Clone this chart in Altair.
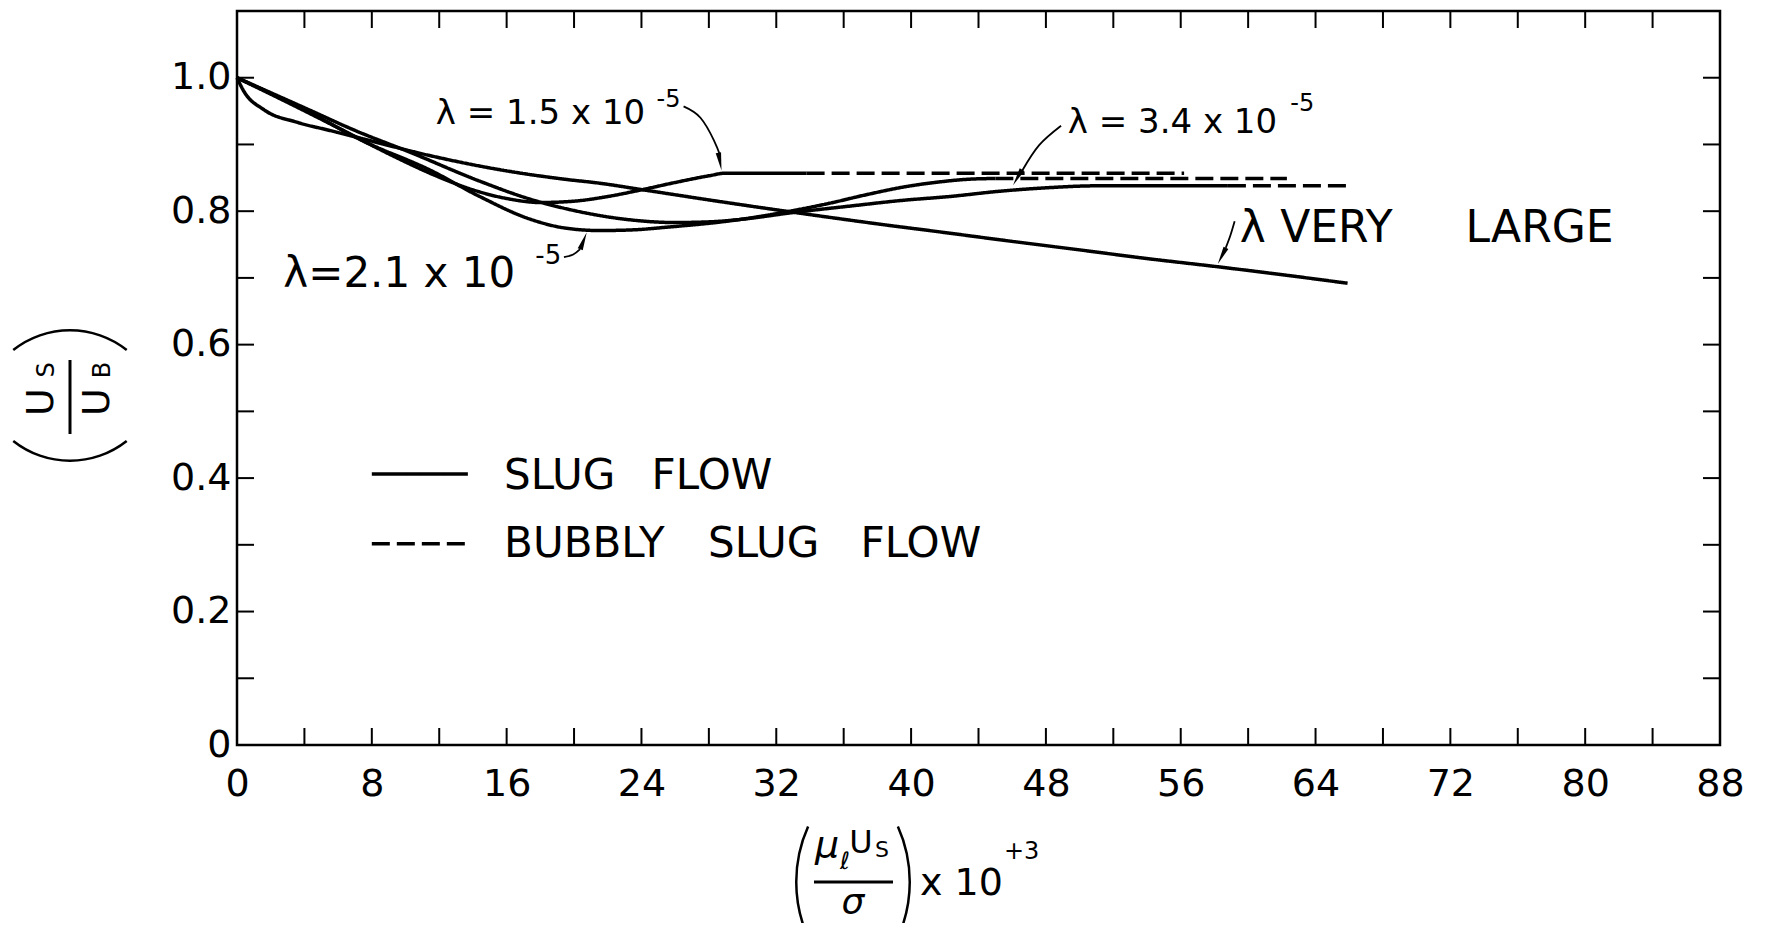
import altair as alt
import pandas as pd

FONT = "DejaVu Sans"

# ---------------- data ----------------
# x = (mu_l * Us / sigma) x 10^3 ,  y = Us / UB
VL_X = [0, 0.4, 1.6, 3.6, 5.5, 8, 11.5, 15.4, 19.4, 21.5, 24.1, 28.5, 33.4, 38, 42.3, 45.3, 50, 54, 58.1, 63.5, 65.9]
VL_Y = [1.0, 0.98, 0.952, 0.933, 0.921, 0.905, 0.883, 0.863, 0.848, 0.842, 0.832, 0.815, 0.797, 0.781, 0.767, 0.757, 0.742, 0.729, 0.717, 0.700, 0.692]

L15_X = [0, 3, 6, 9, 12, 14, 16, 18, 20, 22, 24, 26, 28, 29, 33.8]
L15_Y = [1.0, 0.963, 0.925, 0.886, 0.851, 0.832, 0.819, 0.813, 0.815, 0.822, 0.832, 0.843, 0.853, 0.857, 0.857]
L15_DASH_X = [33.8, 56.2]
L15_DASH_Y = [0.857, 0.857]

L21_X = [0, 4, 7.5, 11.5, 14.4, 17.4, 19.4, 21.5, 23.5, 25.5, 29.4, 32.6, 35, 37.4, 39.5, 41.4, 43.5, 45.0]
L21_Y = [1.0, 0.952, 0.905, 0.861, 0.822, 0.788, 0.775, 0.771, 0.772, 0.776, 0.786, 0.799, 0.811, 0.825, 0.836, 0.843, 0.848, 0.849]
L21_DASH_X = [45.0, 62.3]
L21_DASH_Y = [0.849, 0.849]

L34_X = [0, 4, 7, 10.3, 14.4, 17.4, 20, 23, 26, 28, 30, 33, 36.5, 39.4, 42.3, 45.3, 48, 51, 58.8]
L34_Y = [1.0, 0.955, 0.921, 0.888, 0.845, 0.818, 0.801, 0.788, 0.783, 0.784, 0.788, 0.798, 0.808, 0.816, 0.822, 0.830, 0.835, 0.838, 0.838]
L34_DASH_X = [58.8, 65.9]
L34_DASH_Y = [0.838, 0.838]

X_LABELS = [0, 8, 16, 24, 32, 40, 48, 56, 64, 72, 80, 88]
Y_LABELS = [0, 0.2, 0.4, 0.6, 0.8, 1.0]
X_MINOR = [4, 8, 12, 16, 20, 24, 28, 32, 36, 40, 44, 48, 52, 56, 60, 64, 68, 72, 76, 80, 84]
Y_MINOR = [0.1, 0.2, 0.3, 0.4, 0.5, 0.6, 0.7, 0.8, 0.9, 1.0]

# annotations (data coordinates)
ANN_T = ["λ = 1.5 x 10", "-5", "λ=2.1 x 10", "-5", "λ = 3.4 x 10", "-5", "λ", "VERY", "LARGE"]
ANN_X = [11.8, 24.9, 2.75, 17.7, 49.3, 62.5, 59.5, 61.9, 72.9]
ANN_Y = [0.946, 0.967, 0.706, 0.733, 0.932, 0.960, 0.773, 0.773, 0.773]
ANN_FS = [34, 24, 42, 26, 34, 24, 44, 44, 44]

LEG_T = ["SLUG", "FLOW", "BUBBLY", "SLUG", "FLOW"]
LEG_X = [15.85, 24.6, 15.85, 27.95, 37.0]
LEG_Y = [0.403, 0.403, 0.3015, 0.3015, 0.3015]
LEG_LINE_X = [8.0, 13.7]
LEG_LINE_Y = [0.406, 0.3015]

ARROWS = {
    "a15": ([26.5, 27.5, 28.3, 28.65], [0.957, 0.940, 0.906, 0.885]),
    "a21": ([19.4, 19.95, 20.36], [0.731, 0.735, 0.743]),
    "a34": ([48.9, 47.6, 46.6], [0.928, 0.899, 0.861]),
    "avl": ([59.2, 58.95, 58.67], [0.785, 0.764, 0.745]),
}
HEAD_X = [28.75, 20.75, 46.05, 58.2]
HEAD_Y = [0.861, 0.768, 0.839, 0.721]
HEAD_ANG = [350, 201, 30, 27]

# ---------------- layout ----------------
OX, OY = 237, 11          # plot origin on the page
W, H = 1483, 734
TICK = 17

xs = alt.Scale(domain=[0, 88], nice=False, zero=False)
ys = alt.Scale(domain=[0, 1.1], nice=False, zero=False)
xaxis = alt.Axis(values=X_LABELS, title=None, grid=False, ticks=False, domain=False,
                 labelFontSize=38, labelFont=FONT, labelColor="black", labelPadding=20,
                 labelFlush=False, labelOverlap=False)
yaxis = alt.Axis(values=Y_LABELS, title=None, grid=False, ticks=False, domain=False,
                 labelFontSize=38, labelFont=FONT, labelColor="black", labelPadding=6,
                 labelFlush=False, labelOverlap=False,
                 labelExpr="datum.value == 0 ? '0' : format(datum.value, '.1f')")


def X(f="x"):
    return alt.X(f"{f}:Q", scale=xs, axis=xaxis)


def Y(f="y"):
    return alt.Y(f"{f}:Q", scale=ys, axis=yaxis)


# curves table
segs = [
    ("vl", "solid", VL_X, VL_Y),
    ("15", "solid", L15_X, L15_Y), ("15d", "dashed", L15_DASH_X, L15_DASH_Y),
    ("21", "solid", L21_X, L21_Y), ("21d", "dashed", L21_DASH_X, L21_DASH_Y),
    ("34", "solid", L34_X, L34_Y), ("34d", "dashed", L34_DASH_X, L34_DASH_Y),
]
rows = []
for name, sty, xv, yv in segs:
    for i, (a, b) in enumerate(zip(xv, yv)):
        rows.append({"seg": name, "style": sty, "x": a, "y": b, "i": i})
curves = pd.DataFrame(rows)

lines = alt.Chart(curves).mark_line(color="black", strokeWidth=3.5, interpolate="monotone").encode(
    x=X(), y=Y(), detail="seg:N", order="i:Q",
    strokeDash=alt.StrokeDash("style:N", scale=alt.Scale(domain=["solid", "dashed"], range=[[1, 0], [18, 7]]), legend=None),
)

# inward ticks on all four sides
xt = pd.DataFrame({"x": X_MINOR})
yt = pd.DataFrame({"y": Y_MINOR})
tick_b = alt.Chart(xt).mark_rule(color="black", strokeWidth=2).encode(x=X(), y=alt.value(H), y2=alt.value(H - TICK))
tick_t = alt.Chart(xt).mark_rule(color="black", strokeWidth=2).encode(x=X(), y=alt.value(0), y2=alt.value(TICK))
tick_l = alt.Chart(yt).mark_rule(color="black", strokeWidth=2).encode(y=Y(), x=alt.value(0), x2=alt.value(TICK))
tick_r = alt.Chart(yt).mark_rule(color="black", strokeWidth=2).encode(y=Y(), x=alt.value(W), x2=alt.value(W - TICK))

ann = pd.DataFrame({"t": ANN_T, "x": ANN_X, "y": ANN_Y, "fs": ANN_FS})
ann_text = alt.Chart(ann).mark_text(align="left", baseline="middle", font=FONT, color="black").encode(
    x=X(), y=Y(), text="t:N", size=alt.Size("fs:Q", scale=None))

leg = pd.DataFrame({"t": LEG_T, "x": LEG_X, "y": LEG_Y})
leg_text = alt.Chart(leg).mark_text(align="left", baseline="middle", font=FONT, fontSize=42, color="black").encode(
    x=X(), y=Y(), text="t:N")
legl = pd.DataFrame({"x": [LEG_LINE_X[0]] * 2, "x2": [LEG_LINE_X[1]] * 2, "y": LEG_LINE_Y,
                     "style": ["solid", "dashed"]})
leg_lines = alt.Chart(legl).mark_rule(color="black", strokeWidth=3.5).encode(
    x=X(), x2="x2:Q", y=Y(),
    strokeDash=alt.StrokeDash("style:N", scale=alt.Scale(domain=["solid", "dashed"], range=[[1, 0], [26, 9]]), legend=None))

arows = []
for k, (xv, yv) in ARROWS.items():
    for i, (a, b) in enumerate(zip(xv, yv)):
        arows.append({"a": k, "x": a, "y": b, "i": i})
arr = pd.DataFrame(arows)
arrow_lines = alt.Chart(arr).mark_line(color="black", strokeWidth=1.8, interpolate="natural").encode(
    x=X(), y=Y(), detail="a:N", order="i:Q")
heads = pd.DataFrame({"x": HEAD_X, "y": HEAD_Y, "ang": HEAD_ANG})
arrow_heads = alt.Chart(heads).mark_point(shape="M0,0 L-0.3,-2 L0.3,-2 Z", filled=True, color="black",
                                          size=324, opacity=1).encode(
    x=X(), y=Y(), angle=alt.Angle("ang:Q", scale=None))

# ---------------- axis titles (typeset pieces) ----------------
one = pd.DataFrame({"k": [0]})


def ptext(t, px, py, fs, angle=0, align="center", style="normal"):
    return alt.Chart(one).mark_text(text=t, fontSize=fs, angle=angle, align=align, baseline="middle",
                                    font=FONT, fontStyle=style, color="black").encode(
        x=alt.value(px - OX), y=alt.value(py - OY))


def prule(x1, y1, x2, y2, w=3):
    return alt.Chart(one).mark_rule(color="black", strokeWidth=w).encode(
        x=alt.value(x1 - OX), y=alt.value(y1 - OY), x2=alt.value(x2 - OX), y2=alt.value(y2 - OY))


def parc(cx, cy, r, t0, t1):
    return alt.Chart(one).mark_arc(theta=t0, theta2=t1, radius=r, radius2=r - 2.5, color="black").encode(
        x=alt.value(cx - OX), y=alt.value(cy - OY))


ytitle = [
    ptext("U", 42, 402, 38, angle=270),
    ptext("S", 47, 370, 24, angle=270),
    prule(70, 360, 70, 434),
    ptext("U", 98, 402, 38, angle=270),
    ptext("B", 103, 370, 24, angle=270),
    parc(70, 421.6, 92.6, 5.613, 6.953),
    parc(70, 369.4, 92.6, 2.472, 3.812),
]
xtitle = [
    ptext("μ", 827, 846, 38, style="italic"),
    ptext("ℓ", 845, 862, 24, style="italic"),
    ptext("U", 861, 843, 32),
    ptext("S", 882, 850, 22),
    prule(814, 882, 893, 882),
    ptext("σ", 853, 903, 36, style="italic"),
    ptext("x 10", 920, 884, 38, align="left"),
    ptext("+3", 1004, 852, 24, align="left"),
    parc(931.7, 882, 136.7, 4.290, 5.134),
    parc(774.3, 882, 136.7, 1.149, 1.993),
]

chart = alt.layer(
    tick_b, tick_t, tick_l, tick_r,
    lines, arrow_lines, arrow_heads, ann_text, leg_lines, leg_text,
    *ytitle, *xtitle,
).properties(
    width=W, height=H,
    padding={"left": OX - 8, "top": OY - 8, "right": 30, "bottom": 178},
    autosize=alt.AutoSizeParams(type="none"),
    background="white",
).configure_view(stroke="black", strokeWidth=2.5)

chart.save("out.html", embed_options={"renderer": "svg", "actions": False})
